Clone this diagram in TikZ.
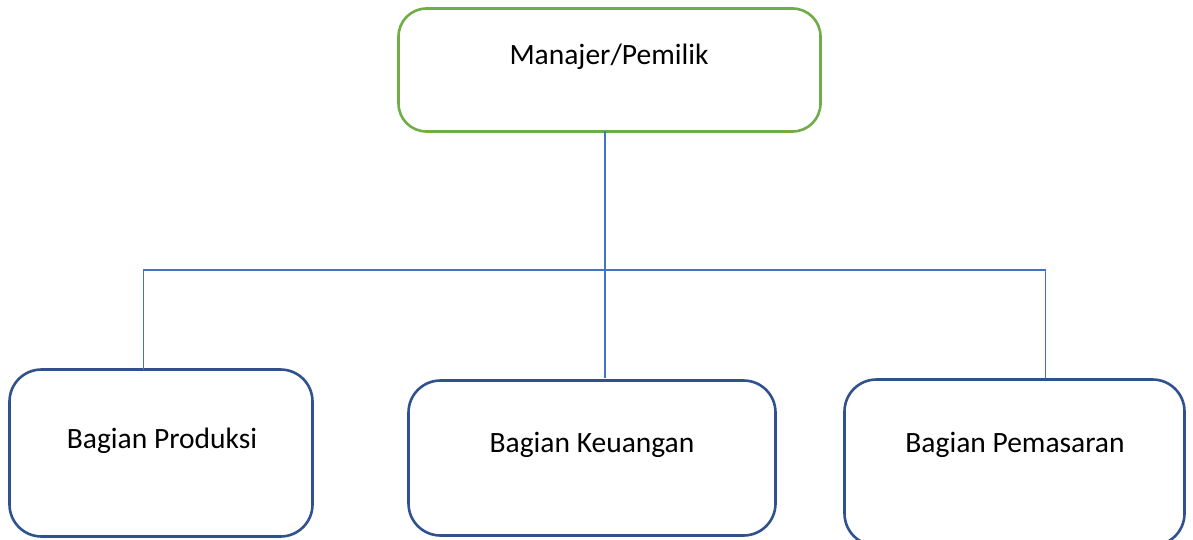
\documentclass[tikz,border=0pt]{standalone}
\usepackage{fontspec}
\setmainfont{Carlito}
\definecolor{boxgreen}{HTML}{70AD47}
\definecolor{boxblue}{HTML}{2F528F}
\definecolor{linkblue}{HTML}{4472C4}
\begin{document}
\begin{tikzpicture}[x=1pt,y=-1pt,
  box/.style={draw, rectangle, rounded corners=28pt, line width=2.6pt, inner sep=0pt, outer sep=0pt, fill=white},
  topbox/.style={box, draw=boxgreen},
  unitbox/.style={box, draw=boxblue, rounded corners=32pt},
  lbl/.style={font=\fontsize{29.5}{35}\selectfont, text=black, inner sep=0pt},
  conn/.style={draw=linkblue, line width=1.2pt}]
\useasboundingbox (0,0) rectangle (1193,540);
\begin{scope}
\clip (0,0) rectangle (1193,540);
\node[topbox, minimum width=422pt, minimum height=123pt] (top) at (609.5,70) {};
\node[unitbox, minimum width=303pt, minimum height=167pt] (prod) at (161,453) {};
\node[unitbox, minimum width=367pt, minimum height=155pt] (keu) at (592,458) {};
\node[unitbox, minimum width=340pt, minimum height=166pt] (pem) at (1014.5,462.5) {};
\end{scope}
\node[lbl] (ttop) at (609,57) {Manajer/Pemilik};
\node[lbl] (tprod) at (162,441) {Bagian Produksi};
\node[lbl] (tkeu) at (592,445) {Bagian Keuangan};
\node[lbl] (tpem) at (1015,445) {Bagian Pemasaran};
\coordinate (hl) at (143.5,270);
\coordinate (hm) at (605,270);
\coordinate (hr) at (1045.5,270);
\draw[conn] (top.south -| hm) -- ([yshift=3pt]keu.north -| hm);
\draw[conn] (prod.north -| hl) -- (hl) -- (hr) -- ([yshift=2pt]pem.north -| hr);
\end{tikzpicture}
\end{document}
